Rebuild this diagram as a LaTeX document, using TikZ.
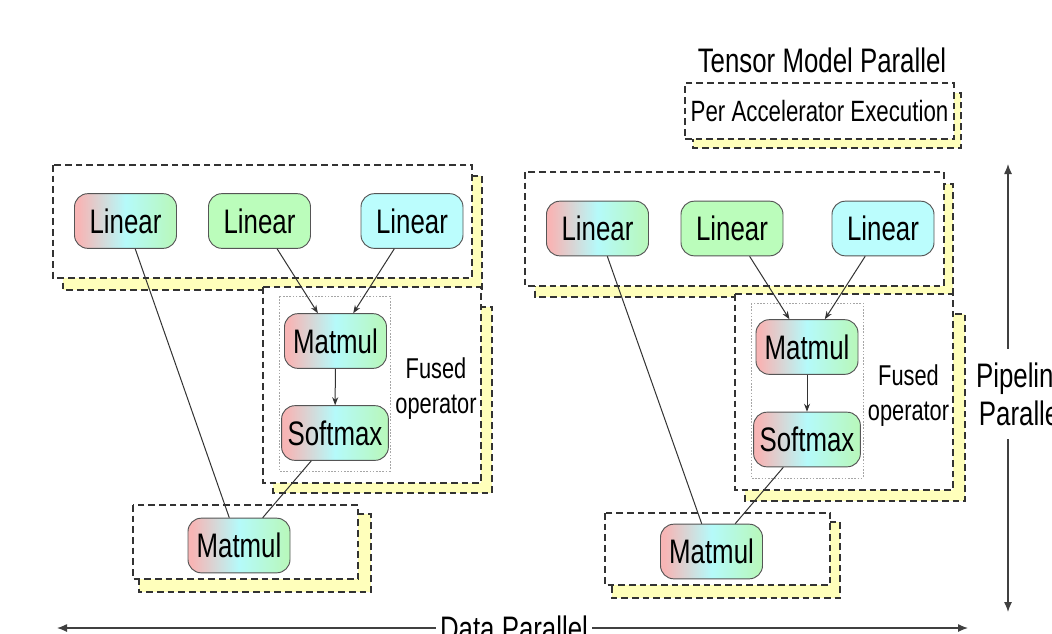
\documentclass[tikz,border=0pt]{standalone}
\usepackage{fontspec}
\setmainfont[FakeStretch=0.76]{Liberation Sans}
\usetikzlibrary{arrows.meta}
\definecolor{pinkc}{HTML}{F7B5B5}
\definecolor{cyanc}{HTML}{B5FAFA}
\definecolor{greenc}{HTML}{B8F8BE}
\definecolor{grnfill}{HTML}{BBFDBB}
\definecolor{cynfill}{HTML}{BBFDFD}
\definecolor{shadowy}{HTML}{FFFFBB}
\definecolor{edgec}{HTML}{555555}
\definecolor{dashc}{HTML}{333333}
\pgfdeclarehorizontalshading{mixshade}{100bp}{color(0bp)=(pinkc); color(27bp)=(pinkc); color(50bp)=(cyanc); color(73bp)=(greenc); color(100bp)=(greenc)}
\tikzset{
  op/.style={rounded corners=10pt, draw=edgec, line width=0.7pt, minimum width=76.5pt, minimum height=41pt, inner xsep=4.5pt, font=\fontsize{25.5}{28}\selectfont},
  mix/.style={op, shade, shading=mixshade},
  grn/.style={op, fill=grnfill},
  cyn/.style={op, fill=cynfill},
  grp/.style={draw=dashc, dash pattern=on 5pt off 3pt, line width=1.1pt, fill=white},
  shd/.style={draw=dashc, dash pattern=on 5pt off 3pt, line width=1.1pt, fill=shadowy},
  fusedin/.style={draw=gray!70, dash pattern=on 1.2pt off 1.2pt, line width=0.6pt},
  conn/.style={draw=black!80, line width=0.75pt},
  arr/.style={conn, -{Stealth[length=6pt,width=4.5pt]}},
  lbl/.style={font=\fontsize{21.5}{26}\selectfont, align=center, inner sep=0pt},
  big/.style={font=\fontsize{25.5}{28.5}\selectfont, align=center},
  dimarr/.style={draw=black!75, line width=0.9pt, {Latex[length=7.5pt,width=6pt]}-{Latex[length=7.5pt,width=6pt]}},
}
\begin{document}
\begin{tikzpicture}[x=0.75pt,y=-0.75pt]
\useasboundingbox (0,0) rectangle (1052,633);
\fill[white] (0,0) rectangle (1052,633);

% ---------- left panel ----------
\draw[shd] (63,176) rectangle (482,290);
\draw[grp] (53,165) rectangle (472,278);
\draw[shd] (273,307) rectangle (492,493);
\draw[grp] (263,287) rectangle (481,483);
\draw[fusedin] (279,296) rectangle (390,471);
\draw[shd] (139,514) rectangle (371,592);
\draw[grp] (133,505) rectangle (358,579);

\node[mix] (L1) at (125.5,221) {Linear};
\node[grn] (L2) at (259.5,221) {Linear};
\node[cyn] (L3) at (412,221) {Linear};
\node[mix] (M) at (335.5,341) {Matmul};
\node[mix] (S) at (335,433) {Softmax};
\node[mix] (B) at (239,545.5) {Matmul};
\node[lbl] (F) at (436,388.5) {Fused\\operator};

\draw[conn] (L1) -- (B);
\draw[conn] (S) -- (B);
\draw[arr] (L2) -- (M);
\draw[arr] (L3) -- (M);
\draw[arr] (M) -- (S);

% ---------- right panel ----------
\draw[shd] (535,184) rectangle (953,297);
\draw[grp] (525,172) rectangle (944,286);
\draw[shd] (745,314) rectangle (965,501);
\draw[grp] (735,294) rectangle (953,490);
\draw[fusedin] (751,303) rectangle (863,478);
\draw[shd] (612,522) rectangle (840,598);
\draw[grp] (605,513) rectangle (830,585);

\node[mix] (RL1) at (597.5,228.5) {Linear};
\node[grn] (RL2) at (732,228.5) {Linear};
\node[cyn] (RL3) at (883,228.5) {Linear};
\node[mix] (RM) at (807,347) {Matmul};
\node[mix] (RS) at (807,439.5) {Softmax};
\node[mix] (RB) at (711.5,551.5) {Matmul};
\node[lbl] (RF) at (908.5,395.5) {Fused\\operator};

\draw[conn] (RL1) -- (RB);
\draw[conn] (RS) -- (RB);
\draw[arr] (RL2) -- (RM);
\draw[arr] (RL3) -- (RM);
\draw[arr] (RM) -- (RS);

% ---------- legend ----------
\node[big, inner sep=0pt] (TMP) at (822,60.5) {Tensor Model Parallel};
\draw[shd] (693,93) rectangle (961,148);
\node[grp, minimum width=201.75pt, minimum height=42pt, inner sep=0pt, font=\fontsize{22}{26}\selectfont] (PAE) at (819.5,111) {Per Accelerator Execution};

% ---------- axes ----------
\coordinate (DPl) at (57,628);
\coordinate (DPr) at (968,628);
\draw[dimarr] (DPl) -- (DPr);
\node[big, fill=white, inner xsep=3pt, inner ysep=2pt] (DP) at (514,628) {Data Parallel};

\coordinate (PPt) at (1008,164);
\coordinate (PPb) at (1008,612);
\draw[dimarr] (PPt) -- (PPb);
\node[big, fill=white, inner xsep=3pt, inner ysep=10pt] (PP) at (1022,394) {Pipeline\\Parallel};
\end{tikzpicture}
\end{document}
